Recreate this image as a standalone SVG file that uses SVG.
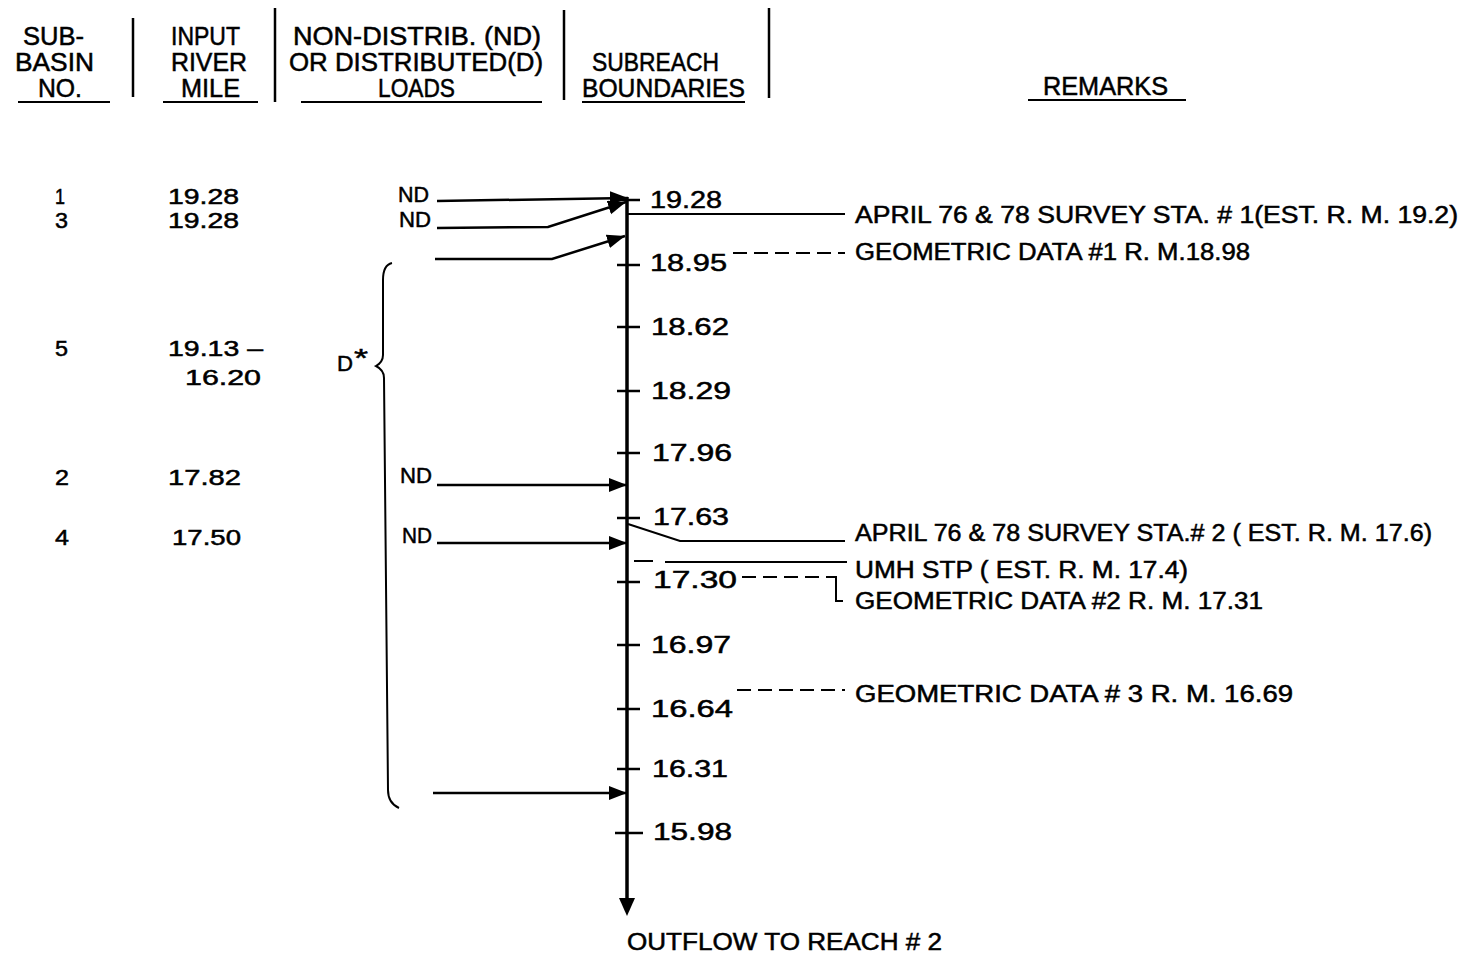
<svg xmlns="http://www.w3.org/2000/svg" width="1462" height="954" viewBox="0 0 1462 954">
<style>
  text { font-family: "Liberation Sans", Arial, sans-serif; fill: #000; stroke: #000; stroke-width: 0.5; }
  .hd { font-size: 25px; }
  .col { font-size: 22px; }
  .num { font-size: 24px; }
  .rm { font-size: 23px; }
  .ln { stroke: #000; stroke-width: 2; fill: none; }
  .sep { stroke: #000; stroke-width: 2.5; fill: none; }
  .arr { stroke: #000; stroke-width: 2.5; fill: none; marker-end: url(#ah); }
  .dash { stroke: #000; stroke-width: 2; fill: none; stroke-dasharray: 14 7; }
  .tick { stroke: #000; stroke-width: 2.5; }
</style>
<defs>
  <marker id="ah" markerUnits="userSpaceOnUse" markerWidth="20" markerHeight="16" refX="18" refY="7" orient="auto">
    <path d="M0,0 L18,7 L0,14 z" fill="#000"/>
  </marker>
</defs>
<rect width="1462" height="954" fill="#fff"/>

<g id="header">
  <text class="hd" x="23" y="45" textLength="61" lengthAdjust="spacingAndGlyphs">SUB-</text>
  <text class="hd" x="15" y="71" textLength="79" lengthAdjust="spacingAndGlyphs">BASIN</text>
  <text class="hd" x="38" y="97" textLength="44" lengthAdjust="spacingAndGlyphs">NO.</text>
  <line class="ln" x1="18" y1="102" x2="110" y2="102"/>
  <line class="sep" x1="133" y1="18" x2="133" y2="97"/>
  <text class="hd" x="171" y="45" textLength="69" lengthAdjust="spacingAndGlyphs">INPUT</text>
  <text class="hd" x="171" y="71" textLength="76" lengthAdjust="spacingAndGlyphs">RIVER</text>
  <text class="hd" x="181" y="97" textLength="59" lengthAdjust="spacingAndGlyphs">MILE</text>
  <line class="ln" x1="163" y1="102" x2="258" y2="102"/>
  <line class="sep" x1="275" y1="8" x2="275" y2="102"/>
  <text class="hd" x="293" y="45" textLength="248" lengthAdjust="spacingAndGlyphs">NON-DISTRIB. (ND)</text>
  <text class="hd" x="289" y="71" textLength="254" lengthAdjust="spacingAndGlyphs">OR DISTRIBUTED(D)</text>
  <text class="hd" x="378" y="97" textLength="77" lengthAdjust="spacingAndGlyphs">LOADS</text>
  <line class="ln" x1="301" y1="102" x2="542" y2="102"/>
  <line class="sep" x1="564" y1="10" x2="564" y2="100"/>
  <text class="hd" x="592" y="71" textLength="127" lengthAdjust="spacingAndGlyphs">SUBREACH</text>
  <text class="hd" x="582" y="97" textLength="163" lengthAdjust="spacingAndGlyphs">BOUNDARIES</text>
  <line class="ln" x1="582" y1="102" x2="745" y2="102"/>
  <line class="sep" x1="769" y1="8" x2="769" y2="98"/>
  <text class="hd" x="1043" y="95" textLength="125" lengthAdjust="spacingAndGlyphs">REMARKS</text>
  <line class="ln" x1="1028" y1="100" x2="1186" y2="100"/>
</g>

<g id="subbasins">
  <text class="col" x="55" y="204" textLength="10" lengthAdjust="spacingAndGlyphs">1</text>
  <text class="col" x="168" y="204" textLength="71" lengthAdjust="spacingAndGlyphs">19.28</text>
  <text class="col" x="55" y="228" textLength="13" lengthAdjust="spacingAndGlyphs">3</text>
  <text class="col" x="168" y="228" textLength="71" lengthAdjust="spacingAndGlyphs">19.28</text>
  <text class="col" x="55" y="356" textLength="13" lengthAdjust="spacingAndGlyphs">5</text>
  <text class="col" x="168" y="356" textLength="95" lengthAdjust="spacingAndGlyphs">19.13 –</text>
  <text class="col" x="185" y="385" textLength="76" lengthAdjust="spacingAndGlyphs">16.20</text>
  <text class="col" x="55" y="485" textLength="14" lengthAdjust="spacingAndGlyphs">2</text>
  <text class="col" x="168" y="485" textLength="73" lengthAdjust="spacingAndGlyphs">17.82</text>
  <text class="col" x="55" y="545" textLength="14" lengthAdjust="spacingAndGlyphs">4</text>
  <text class="col" x="172" y="545" textLength="69" lengthAdjust="spacingAndGlyphs">17.50</text>
</g>

<g id="loads">
  <text class="col" x="398" y="202" textLength="31" lengthAdjust="spacingAndGlyphs">ND</text>
  <text class="col" x="399" y="227" textLength="32" lengthAdjust="spacingAndGlyphs">ND</text>
  <text class="col" x="400" y="483" textLength="32" lengthAdjust="spacingAndGlyphs">ND</text>
  <text class="col" x="402" y="543" textLength="30" lengthAdjust="spacingAndGlyphs">ND</text>
  <text class="col" x="337" y="371" textLength="16" lengthAdjust="spacingAndGlyphs">D</text>
  <text x="354" y="367" font-size="26" textLength="14" lengthAdjust="spacingAndGlyphs">*</text>
  <path class="ln" d="M392,263 Q383,265 383,280 L383,355 Q383,362 376,366 Q384,370 384,378 L388,790 Q388,803 399,808"/>
</g>

<g id="connectors">
  <line class="arr" x1="437" y1="201" x2="628" y2="198"/>
  <polyline class="arr" points="437,228 548,227 626,202"/>
  <polyline class="arr" points="435,259 552,259 625,236"/>
  <line class="arr" x1="437" y1="485" x2="627" y2="485"/>
  <line class="arr" x1="437" y1="543" x2="627" y2="543"/>
  <line class="arr" x1="433" y1="793" x2="627" y2="793"/>
  <line x1="627" y1="197" x2="627" y2="900" stroke="#000" stroke-width="3.5"/>
  <path d="M619,898 L635,898 L627,916 z" fill="#000"/>
  <line class="ln" x1="628" y1="214" x2="845" y2="214"/>
  <line class="dash" x1="733" y1="253" x2="845" y2="253"/>
  <polyline class="ln" points="628,524 680,541 845,541"/>
  <line class="ln" x1="634" y1="561" x2="653" y2="561"/>
  <line class="ln" x1="665" y1="562" x2="847" y2="562"/>
  <line class="dash" x1="742" y1="577" x2="828" y2="577"/>
  <polyline class="ln" points="828,577 836,577 836,601 843,601"/>
  <line class="dash" x1="737" y1="690" x2="845" y2="690"/>
</g>

<g id="boundaries">
  <line class="tick" x1="617" y1="200" x2="640" y2="200"/>
  <text class="num" x="650" y="208" textLength="72" lengthAdjust="spacingAndGlyphs">19.28</text>
  <line class="tick" x1="617" y1="265" x2="640" y2="265"/>
  <text class="num" x="650" y="271" textLength="77" lengthAdjust="spacingAndGlyphs">18.95</text>
  <line class="tick" x1="617" y1="327" x2="640" y2="327"/>
  <text class="num" x="651" y="335" textLength="78" lengthAdjust="spacingAndGlyphs">18.62</text>
  <line class="tick" x1="617" y1="391" x2="640" y2="391"/>
  <text class="num" x="651" y="399" textLength="80" lengthAdjust="spacingAndGlyphs">18.29</text>
  <line class="tick" x1="617" y1="453" x2="640" y2="453"/>
  <text class="num" x="652" y="461" textLength="80" lengthAdjust="spacingAndGlyphs">17.96</text>
  <line class="tick" x1="617" y1="518" x2="640" y2="518"/>
  <text class="num" x="653" y="525" textLength="76" lengthAdjust="spacingAndGlyphs">17.63</text>
  <line class="tick" x1="617" y1="582" x2="640" y2="582"/>
  <text class="num" x="653" y="588" textLength="84" lengthAdjust="spacingAndGlyphs">17.30</text>
  <line class="tick" x1="617" y1="645" x2="640" y2="645"/>
  <text class="num" x="651" y="653" textLength="80" lengthAdjust="spacingAndGlyphs">16.97</text>
  <line class="tick" x1="617" y1="709" x2="640" y2="709"/>
  <text class="num" x="651" y="717" textLength="82" lengthAdjust="spacingAndGlyphs">16.64</text>
  <line class="tick" x1="617" y1="769" x2="640" y2="769"/>
  <text class="num" x="652" y="777" textLength="76" lengthAdjust="spacingAndGlyphs">16.31</text>
  <line class="tick" x1="615" y1="833" x2="643" y2="833"/>
  <text class="num" x="653" y="840" textLength="79" lengthAdjust="spacingAndGlyphs">15.98</text>
</g>

<g id="remarks">
  <text class="rm" x="855" y="223" textLength="603" lengthAdjust="spacingAndGlyphs">APRIL 76 &amp; 78 SURVEY STA. # 1(EST. R. M. 19.2)</text>
  <text class="rm" x="855" y="260" textLength="395" lengthAdjust="spacingAndGlyphs">GEOMETRIC DATA #1  R. M.18.98</text>
  <text class="rm" x="855" y="541" textLength="577" lengthAdjust="spacingAndGlyphs">APRIL 76 &amp; 78 SURVEY STA.# 2 ( EST. R. M. 17.6)</text>
  <text class="rm" x="855" y="578" textLength="333" lengthAdjust="spacingAndGlyphs">UMH STP ( EST. R. M. 17.4)</text>
  <text class="rm" x="855" y="609" textLength="408" lengthAdjust="spacingAndGlyphs">GEOMETRIC DATA #2  R. M. 17.31</text>
  <text class="rm" x="855" y="702" textLength="438" lengthAdjust="spacingAndGlyphs">GEOMETRIC DATA # 3  R. M. 16.69</text>
</g>

<g id="outflow">
  <text class="rm" x="627" y="950" textLength="315" lengthAdjust="spacingAndGlyphs">OUTFLOW TO REACH # 2</text>
</g>
</svg>
